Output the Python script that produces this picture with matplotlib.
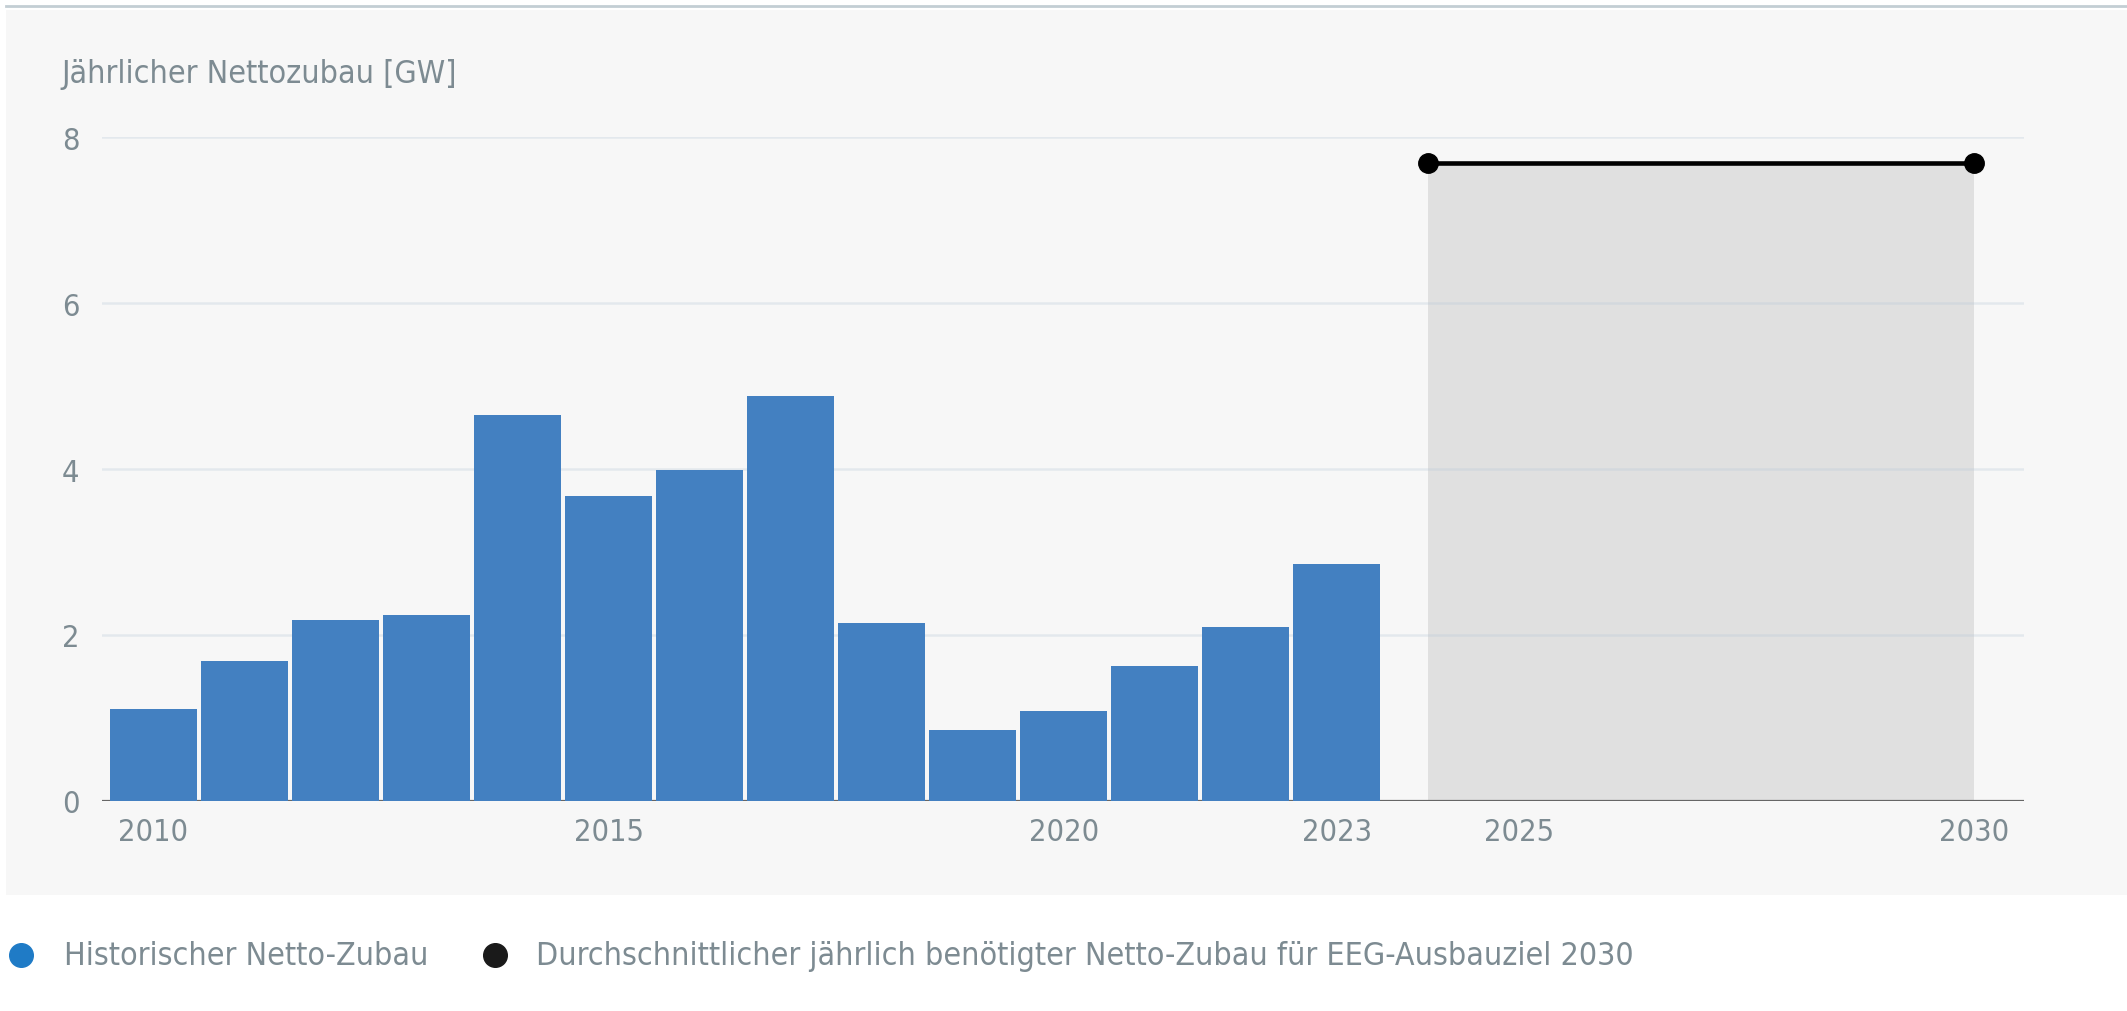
import matplotlib
matplotlib.use("Agg")
import matplotlib.pyplot as plt
from matplotlib.patches import Rectangle
from matplotlib.lines import Line2D

# ---- data ----
years = [2010, 2011, 2012, 2013, 2014, 2015, 2016, 2017, 2018, 2019, 2020, 2021, 2022, 2023]
net_additions = [1.11, 1.69, 2.18, 2.24, 4.65, 3.67, 3.99, 4.88, 2.14, 0.85, 1.08, 1.62, 2.09, 2.86]
target_years = [2024, 2030]
target_value = [7.69, 7.69]
xtick_years = [2010, 2015, 2020, 2023, 2025, 2030]
yticks = [0, 2, 4, 6, 8]
ylabel = "Jährlicher Nettozubau [GW]"
legend_hist = "Historischer Netto-Zubau"
legend_target = "Durchschnittlicher jährlich benötigter Netto-Zubau für EEG-Ausbauziel 2030"

BAR = "#4380c1"
TEXT = "#7d8b92"
FONT = dict(family="DejaVu Sans", fontstretch="condensed")

fig = plt.figure(figsize=(21.27, 10.12), dpi=100)
fig.patch.set_facecolor("white")

# panel background and top rule
bg = Rectangle((0.003, 0.115), 0.997, 0.874, transform=fig.transFigure,
               facecolor="#f7f7f7", edgecolor="none", zorder=-10)
fig.add_artist(bg)
fig.add_artist(Line2D([0.003, 1.0], [0.9935, 0.9935], transform=fig.transFigure,
                      color="#c3ced4", lw=2.0, zorder=-5))

ax = fig.add_axes([0.0478, 0.2078, 0.9037, 0.6555])
ax.set_zorder(5)
ax.set_facecolor("none")
for s in ax.spines.values():
    s.set_visible(False)

ax.set_xlim(2009.43, 2030.55)
ax.set_ylim(0, 8)

# grid
for y in yticks[1:]:
    ax.axhline(y, color="#b8c8d8", alpha=0.3, lw=1.8, zorder=1.2)

# projection area
ax.add_patch(Rectangle((target_years[0], 0), target_years[1] - target_years[0], target_value[0],
                       facecolor="#e0e0e0", edgecolor="none", zorder=1))

ax.bar(years, net_additions, width=0.955, color=BAR, zorder=2)
ax.axhline(0, color="#666666", lw=1.6, zorder=1.5)

ax.plot(target_years, target_value, color="black", lw=3.3, marker="o", markersize=14,
        zorder=5, clip_on=False)

ax.set_xticks(xtick_years)
ax.set_xticklabels([str(y) for y in xtick_years], color=TEXT, fontsize=22, **FONT)
ax.set_yticks(yticks)
ax.set_yticklabels([str(y) for y in yticks], color=TEXT, fontsize=22, **FONT)
ax.tick_params(axis="both", length=0)
ax.tick_params(axis="x", pad=12)
ax.tick_params(axis="y", pad=16)

fig.text(0.0287, 0.926, ylabel, color=TEXT, fontsize=23, va="center", ha="left", **FONT)

# legend
fig.add_artist(Line2D([0.0098], [0.055], transform=fig.transFigure, marker="o",
                      markersize=17, color="#1f7bc6", linestyle="none"))
fig.text(0.030, 0.055, legend_hist, color=TEXT, fontsize=23, va="center", ha="left", **FONT)
fig.add_artist(Line2D([0.2325], [0.055], transform=fig.transFigure, marker="o",
                      markersize=17, color="#1a1a1a", linestyle="none"))
fig.text(0.252, 0.055, legend_target, color=TEXT, fontsize=23, va="center", ha="left", **FONT)

fig.savefig("out.png", dpi=100, facecolor="white")
